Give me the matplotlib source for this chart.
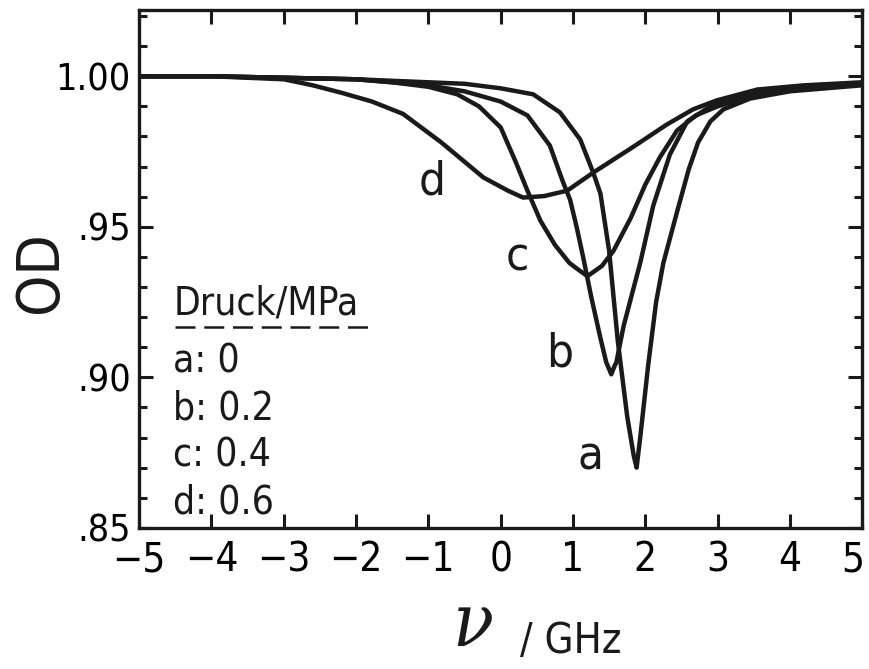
import matplotlib
matplotlib.use("Agg")
import matplotlib.pyplot as plt
from matplotlib.ticker import FixedLocator, FixedFormatter, MultipleLocator
from matplotlib.transforms import ScaledTranslation

plt.rcParams['font.family'] = ['DejaVu Sans']
plt.rcParams['font.stretch'] = 'condensed'

# Frequenz / GHz und OD fuer die vier Druckstufen
a_x = [-5.0, -4.0, -3.0, -2.0, -1.0, -0.5, 0.0, 0.45, 0.82, 1.10, 1.28, 1.38, 1.50, 1.62, 1.75, 1.84, 1.88,
       1.93, 2.04, 2.15, 2.25, 2.44, 2.60, 2.73, 2.90, 3.08, 3.45, 4.0, 4.5, 5.0]
a_y = [1.000, 1.000, 0.9995, 0.999, 0.998, 0.9975, 0.996, 0.994, 0.988, 0.979, 0.968, 0.961, 0.942, 0.912, 0.887,
       0.874, 0.870, 0.880, 0.904, 0.925, 0.938, 0.955, 0.969, 0.978, 0.985, 0.989, 0.9926, 0.995, 0.996, 0.997]

b_x = [-5.0, -4.0, -3.0, -2.0, -1.5, -1.0, -0.5, 0.0, 0.37, 0.68, 0.86, 0.96, 1.05, 1.14, 1.25, 1.38, 1.46, 1.53,
       1.57, 1.60, 1.70, 1.82, 1.93, 2.11, 2.34, 2.58, 2.90, 3.30, 4.0, 5.0]
b_y = [1.000, 1.000, 0.9995, 0.999, 0.998, 0.997, 0.995, 0.9916, 0.987, 0.977, 0.965, 0.959, 0.950, 0.940, 0.927,
       0.913, 0.905, 0.901, 0.9035, 0.905, 0.917, 0.928, 0.938, 0.957, 0.974, 0.985, 0.990, 0.9935, 0.996, 0.9975]

c_x = [-5.0, -4.0, -3.0, -2.0, -1.5, -1.0, -0.6, -0.3, 0.0, 0.2, 0.37, 0.55, 0.75, 0.95, 1.06, 1.2, 1.4, 1.56,
       1.8, 2.0, 2.2, 2.44, 2.7, 3.0, 3.4, 4.0, 5.0]
c_y = [1.000, 1.000, 0.9995, 0.999, 0.998, 0.9965, 0.994, 0.990, 0.983, 0.972, 0.962, 0.952, 0.944, 0.938, 0.936,
       0.9336, 0.937, 0.942, 0.953, 0.964, 0.973, 0.982, 0.987, 0.990, 0.993, 0.9955, 0.9975]

d_x = [-5.0, -4.0, -3.0, -2.6, -2.2, -1.78, -1.35, -0.82, -0.24, 0.1, 0.31, 0.6, 0.92, 1.28, 1.83, 2.3, 2.66,
       2.99, 3.55, 4.2, 5.0]
d_y = [1.000, 1.000, 0.999, 0.997, 0.9945, 0.9916, 0.9875, 0.978, 0.9664, 0.962, 0.9597, 0.9602, 0.962, 0.968,
       0.9765, 0.984, 0.989, 0.992, 0.9956, 0.997, 0.998]

kurven = [("a", a_x, a_y), ("b", b_x, b_y), ("c", c_x, c_y), ("d", d_x, d_y)]
druck = ["0", "0.2", "0.4", "0.6"]
label_pos = {"a": (1.24, 0.8735), "b": (0.82, 0.9077), "c": (0.23, 0.9396), "d": (-0.95, 0.9648)}

y_ticks = [0.85, 0.90, 0.95, 1.00]
y_ticklabels = [".85", ".90", ".95", "1.00"]
x_ticks = list(range(-5, 6))
x_ticklabels = [str(v).replace("-", "\u2212") for v in x_ticks]

fig = plt.figure(figsize=(8.7, 6.69), dpi=100)
ax = fig.add_axes([0.160, 0.211, 0.831, 0.774])

for name, xs, ys in kurven:
    ax.plot(xs, ys, color="#1a1a1a", lw=3.2, solid_joinstyle="round", solid_capstyle="round")
    ax.text(*label_pos[name], name, fontsize=34, ha="center", va="center", color="#1a1a1a")

ax.set_xlim(-5, 5)
ax.set_ylim(0.85, 1.022)

ax.xaxis.set_major_locator(FixedLocator(x_ticks))
ax.xaxis.set_major_formatter(FixedFormatter(x_ticklabels))
ax.yaxis.set_major_locator(FixedLocator(y_ticks))
ax.yaxis.set_major_formatter(FixedFormatter(y_ticklabels))
ax.yaxis.set_minor_locator(MultipleLocator(0.01))

ax.tick_params(which="both", direction="in", top=True, right=True, width=2.2, color="#1a1a1a")
ax.tick_params(which="major", length=10)
ax.tick_params(which="minor", length=6)
ax.tick_params(axis="x", labelsize=29, pad=9)
ax.tick_params(axis="y", labelsize=27, pad=6)
for sp in ax.spines.values():
    sp.set_linewidth(2.4)
    sp.set_color("#1a1a1a")

# letzte Beschriftung etwas nach links, damit sie im Bild bleibt
fig.canvas.draw()
last = ax.get_xticklabels()[-1]
last.set_transform(last.get_transform() + ScaledTranslation(-9 / 100, 0, fig.dpi_scale_trans))

# Legende: Druck/MPa mit gestrichelter Linie darunter
ax.text(-4.53, 0.9245, "Druck/MPa", fontsize=28, ha="left", va="center", color="#1a1a1a")
ax.plot([-4.50, -1.80], [0.9168, 0.9168], color="#1a1a1a", lw=1.8, dashes=(8, 3.5))
for i, (name, _, _) in enumerate(kurven):
    ax.text(-4.53, 0.9054 - i * 0.0157, f"{name}: {druck[i]}", fontsize=28, ha="left", va="center",
            color="#1a1a1a")

fig.text(0.046, 0.593, "OD", fontsize=42, rotation=90, ha="center", va="center", color="#1a1a1a")
fig.text(0.543, 0.034, "\u03bd", fontsize=54, family="DejaVu Serif", style="italic",
         ha="center", va="baseline", color="#1a1a1a")
fig.text(0.598, 0.042, "/ GHz", fontsize=30, ha="left", va="center", color="#1a1a1a")

fig.savefig("out.png", dpi=100)
